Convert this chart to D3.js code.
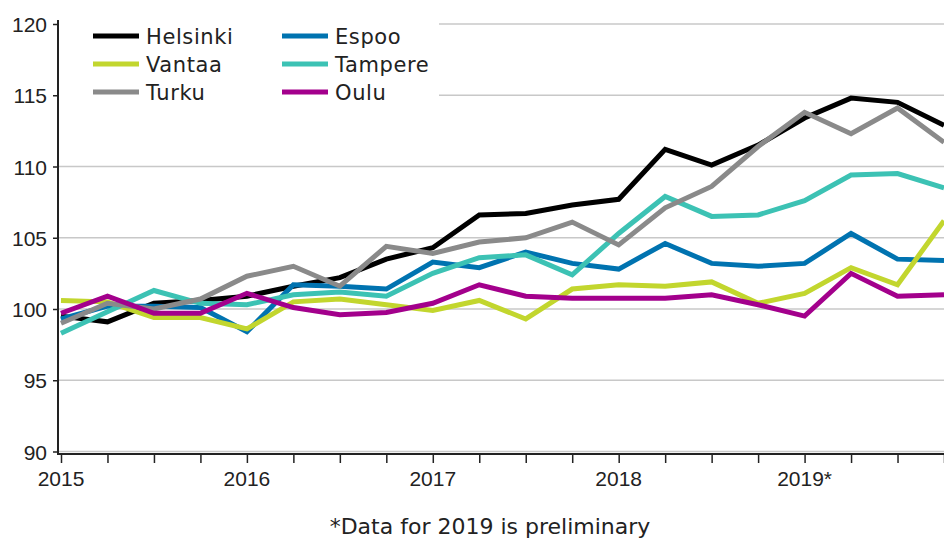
<!DOCTYPE html>
<html>
<head>
<meta charset="utf-8">
<script src="https://cdn.jsdelivr.net/npm/d3@7"></script>
<style>
  html, body { margin: 0; padding: 0; background: #fff; }
  svg { display: block; }
</style>
</head>
<body>
<svg id="chart" width="944" height="539"></svg>
<script>
// ---------- data ----------
const quarters = ["2015Q1","2015Q2","2015Q3","2015Q4","2016Q1","2016Q2","2016Q3","2016Q4",
  "2017Q1","2017Q2","2017Q3","2017Q4","2018Q1","2018Q2","2018Q3","2018Q4",
  "2019Q1","2019Q2","2019Q3","2019Q4"];
const yearLabels = ["2015", "2016", "2017", "2018", "2019*"];
const yTicks = [90, 95, 100, 105, 110, 115, 120];
const cities = ["Helsinki", "Espoo", "Vantaa", "Tampere", "Turku", "Oulu"];
const helsinki = [99.5, 99.1, 100.4, 100.6, 100.9, 101.6, 102.2, 103.5, 104.3, 106.6, 106.7, 107.3, 107.7, 111.2, 110.1, 111.5, 113.4, 114.8, 114.5, 112.9];
const espoo    = [99.3, 100.2, 100.2, 100.1, 98.4, 101.7, 101.6, 101.4, 103.3, 102.9, 104.0, 103.2, 102.8, 104.6, 103.2, 103.0, 103.2, 105.3, 103.5, 103.4];
const vantaa   = [100.6, 100.5, 99.4, 99.4, 98.6, 100.5, 100.7, 100.3, 99.9, 100.6, 99.3, 101.4, 101.7, 101.6, 101.9, 100.4, 101.1, 102.9, 101.7, 106.2];
const tampere  = [98.3, 99.8, 101.3, 100.4, 100.3, 101.0, 101.2, 100.9, 102.5, 103.6, 103.8, 102.4, 105.3, 107.9, 106.5, 106.6, 107.6, 109.4, 109.5, 108.5];
const turku    = [99.0, 100.4, 100.0, 100.7, 102.3, 103.0, 101.6, 104.4, 103.9, 104.7, 105.0, 106.1, 104.5, 107.1, 108.6, 111.4, 113.8, 112.3, 114.1, 111.7];
const oulu     = [99.7, 100.9, 99.7, 99.7, 101.1, 100.1, 99.6, 99.75, 100.4, 101.7, 100.9, 100.75, 100.75, 100.75, 101.0, 100.3, 99.5, 102.5, 100.9, 101.0];
const seriesValues = [helsinki, espoo, vantaa, tampere, turku, oulu];
const colors = ["#000000", "#0073b0", "#c2d62e", "#3cc2b4", "#8a8a8a", "#a3008c"];
const footnote = "*Data for 2019 is preliminary";

// ---------- layout ----------
const svg = d3.select("#chart");
const x = d3.scaleLinear().domain([0, quarters.length - 1]).range([61, 944]);
const y = d3.scaleLinear().domain([90, 120]).range([451.5, 24]);
const axisX = 58, axisY = 454;

// gridlines
svg.append("g").selectAll("line").data(yTicks).join("line")
  .attr("x1", axisX).attr("x2", 944)
  .attr("y1", d => y(d)).attr("y2", d => y(d))
  .attr("stroke", "#c8c8c8").attr("stroke-width", 1.6);

// legend background (covers gridlines)
svg.append("rect").attr("x", axisX + 1).attr("y", 12).attr("width", 380).attr("height", 98).attr("fill", "#fff");

// y axis
const yAxis = d3.axisLeft(y).tickValues(yTicks).tickSize(5).tickPadding(6).tickFormat(d3.format("d"));
const gy = svg.append("g").attr("transform", `translate(${axisX},0)`).call(yAxis);
gy.select(".domain").remove();
gy.selectAll(".tick line").attr("stroke", "#222").attr("stroke-width", 1.5);
gy.selectAll(".tick text").attr("font-family", "'Liberation Sans', Arial, sans-serif")
  .attr("font-size", 21).attr("fill", "#222").attr("dy", "0.36em");
svg.append("line").attr("x1", axisX).attr("x2", axisX).attr("y1", 20).attr("y2", axisY + 1)
  .attr("stroke", "#222").attr("stroke-width", 2);

// x axis
const xAxis = d3.axisBottom(x).tickValues(d3.range(quarters.length)).tickSize(9).tickFormat(() => "");
const gx = svg.append("g").attr("transform", `translate(0,${axisY})`).call(xAxis);
gx.select(".domain").remove();
gx.selectAll(".tick line").attr("stroke", "#222").attr("stroke-width", 1.5);
svg.append("line").attr("x1", axisX - 1).attr("x2", 944).attr("y1", axisY).attr("y2", axisY)
  .attr("stroke", "#222").attr("stroke-width", 2);
svg.append("g").selectAll("text").data(yearLabels).join("text")
  .attr("x", (d, i) => x(i * 4)).attr("y", 486)
  .attr("text-anchor", "middle")
  .attr("font-family", "'Liberation Sans', Arial, sans-serif").attr("font-size", 21).attr("fill", "#222")
  .text(d => d);

// lines
const line = d3.line().x((d, i) => x(i)).y(d => y(d));
svg.append("g").selectAll("path").data(seriesValues).join("path")
  .attr("d", d => line(d))
  .attr("fill", "none")
  .attr("stroke", (d, i) => colors[i])
  .attr("stroke-width", 5)
  .attr("stroke-linejoin", "miter");

// legend
const legendPos = [[93, 36], [282, 36], [93, 64], [282, 64], [93, 92], [282, 92]];
const lg = svg.append("g").selectAll("g").data(cities).join("g")
  .attr("transform", (d, i) => `translate(${legendPos[i][0]},${legendPos[i][1]})`);
lg.append("line").attr("x1", 0).attr("x2", 46).attr("y1", 0).attr("y2", 0)
  .attr("stroke", (d, i) => colors[i]).attr("stroke-width", 5);
lg.append("text").attr("x", 53).attr("y", 8)
  .attr("font-family", "'DejaVu Sans', Verdana, sans-serif").attr("font-size", 21).attr("fill", "#222")
  .attr("letter-spacing", 0.6)
  .text(d => d);

// footnote
svg.append("text").attr("x", 490).attr("y", 534).attr("text-anchor", "middle")
  .attr("font-family", "'DejaVu Sans', Verdana, sans-serif").attr("font-size", 22).attr("fill", "#222")
  .text(footnote);
</script>
</body>
</html>
